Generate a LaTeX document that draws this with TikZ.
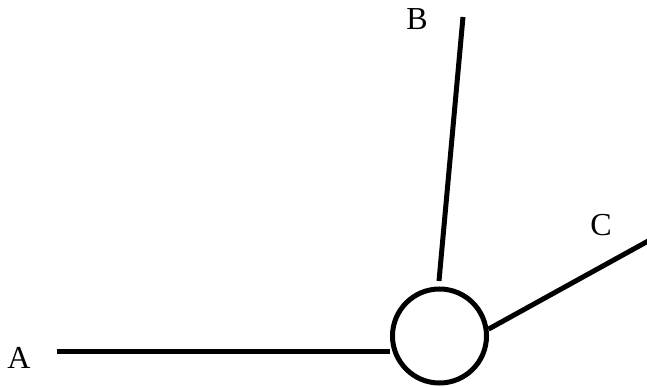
\documentclass[tikz,border=0pt]{standalone}
\usepackage{fontspec}
\setmainfont{Liberation Serif}
\begin{document}
\begin{tikzpicture}[x=1pt,y=1pt,line width=5pt,
font=\fontsize{32}{36}\selectfont]
\useasboundingbox (0,0) rectangle (647,387);
\node[circle,draw,minimum size=94pt,inner sep=0pt] (hub) at (439.5,51) {};
\coordinate (a1) at (57,35);
\coordinate (b1) at (439,106);
\coordinate (b2) at (463,370);
\coordinate (c2) at (650,147);
\node (A) at (19,29) {A};
\node (B) at (417,368) {B};
\node (C) at (601,162) {C};
\draw (a1)--(a1-|hub.west);
\draw (b1)--(b2);
\draw (hub.8)--(c2);
\end{tikzpicture}
\end{document}
